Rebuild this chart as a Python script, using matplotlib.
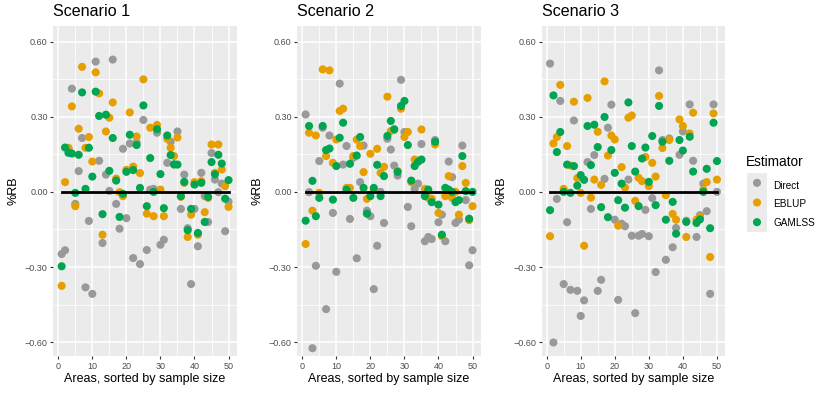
import matplotlib
matplotlib.use("Agg")
import matplotlib.pyplot as plt
import numpy as np

plt.rcParams['font.family'] = ['Liberation Sans', 'DejaVu Sans']

areas = list(range(1, 51))
estimators = ["Direct", "EBLUP", "GAMLSS"]
colors = {"Direct": "#999999", "EBLUP": "#E69F00", "GAMLSS": "#00A551"}
titles = ["Scenario 1", "Scenario 2", "Scenario 3"]
y_ticks = [-0.6, -0.3, 0.0, 0.3, 0.6]
y_ticklabels = ["\u22120.60", "\u22120.30", "0.00", "0.30", "0.60"]
x_ticks = [0, 10, 20, 30, 40, 50]

s1_direct = [-0.248, -0.233, 0.17, 0.412, -0.048, 0.083, 0.215, -0.381, -0.116, -0.407,
             0.52, 0.124, -0.204, 0.069, 0.004, 0.528, -0.048, -0.147, 0.172, -0.105,
             0.193, -0.264, 0.197, -0.288, 0.287, -0.232, 0.009, 0.012, 0.236, -0.211,
             -0.191, 0.116, 0.2, 0.109, 0.241, -0.068, 0.069, -0.145, -0.368, -0.068,
             -0.217, 0.076, -0.017, -0.12, 0.155, 0.049, -0.001, 0.033, -0.157, -0.039]
s1_eblup = [-0.375, 0.039, 0.176, 0.341, -0.057, 0.252, 0.499, 0.176, 0.219, 0.121,
            0.477, 0.393, -0.171, 0.241, 0.296, 0.357, 0.053, -0.001, -0.017, 0.088,
            0.317, 0.101, 0.221, 0.075, 0.449, -0.087, 0.256, -0.097, 0.267, 0.009,
            -0.097, 0.212, 0.176, 0.143, 0.217, -0.02, 0.036, -0.18, -0.091, 0.039,
            -0.171, 0.043, -0.081, -0.024, 0.189, 0.076, 0.189, 0.089, 0.023, -0.06]
s1_gamlss = [-0.297, 0.177, 0.156, 0.153, -0.004, 0.148, 0.397, 0.012, 0.176, 0.061,
             0.40, 0.303, -0.089, 0.308, 0.084, 0.215, 0.045, -0.1, -0.008, 0.08,
             0.228, 0.087, 0.187, 0.016, 0.345, -0.057, 0.135, 0.0, 0.25, 0.071,
             -0.065, 0.225, 0.147, 0.11, 0.109, -0.017, 0.04, -0.153, -0.068, 0.029,
             -0.164, 0.036, -0.12, -0.02, 0.119, 0.07, 0.148, 0.113, -0.027, 0.047]

s2_direct = [0.309, -0.001, -0.624, -0.295, 0.123, 0.256, -0.468, 0.225, -0.084, -0.319,
             0.432, 0.109, 0.183, -0.108, 0.136, -0.265, 0.039, 0.185, -0.075, -0.097,
             -0.388, -0.215, 0.0, -0.124, 0.212, 0.169, 0.105, 0.065, 0.447, 0.239,
             -0.06, -0.137, 0.012, 0.033, 0.191, -0.197, -0.18, -0.188, 0.207, -0.121,
             -0.091, -0.197, 0.121, 0.059, -0.124, -0.111, 0.185, -0.033, -0.293, -0.233]
s2_eblup = [-0.208, 0.236, -0.075, 0.225, -0.004, 0.489, 0.143, 0.485, 0.116, 0.209,
            0.323, 0.332, 0.016, 0.016, 0.143, 0.209, 0.183, 0.079, -0.028, 0.152,
            0.009, 0.172, 0.076, 0.1, 0.38, 0.243, 0.247, 0.083, 0.332, 0.219,
            0.239, 0.039, 0.129, 0.125, 0.249, 0.012, -0.024, -0.028, 0.189, -0.084,
            -0.177, -0.017, 0.063, -0.024, 0.0, -0.091, 0.103, 0.036, -0.113, -0.057]
s2_gamlss = [-0.115, 0.263, 0.044, -0.097, -0.024, 0.263, 0.167, 0.173, -0.031, 0.103,
             0.216, 0.276, 0.009, 0.112, -0.024, 0.145, 0.219, 0.016, -0.087, -0.017,
             0.016, 0.108, -0.017, 0.063, 0.223, 0.283, 0.25, 0.08, 0.343, 0.363,
             0.187, 0.045, 0.103, 0.12, 0.129, -0.017, 0.009, -0.041, 0.2, -0.051,
             -0.171, 0.016, 0.009, 0.0, -0.041, -0.033, 0.143, 0.003, -0.107, 0.0]

s3_direct = [0.512, -0.601, -0.028, 0.363, -0.368, -0.121, -0.391, 0.285, -0.395, -0.495,
             -0.433, 0.119, -0.068, 0.147, -0.395, -0.351, 0.052, 0.256, 0.348, -0.111,
             -0.431, -0.127, -0.137, 0.049, -0.175, -0.484, -0.175, -0.168, -0.072, -0.177,
             -0.025, -0.32, 0.485, 0.207, -0.271, 0.213, -0.221, -0.144, 0.148, 0.241,
             -0.115, 0.349, 0.124, -0.18, -0.093, 0.033, -0.077, -0.407, 0.349, 0.0]
s3_eblup = [-0.177, 0.193, 0.219, 0.427, 0.012, 0.183, 0.105, 0.36, 0.055, -0.004,
            -0.215, 0.375, -0.023, 0.049, 0.24, 0.028, 0.441, 0.145, 0.225, 0.209,
            -0.135, 0.099, 0.017, 0.296, 0.305, -0.036, 0.056, 0.043, 0.139, 0.023,
            0.116, 0.061, 0.383, 0.175, -0.013, 0.207, -0.088, -0.111, 0.289, 0.263,
            -0.18, 0.233, 0.316, -0.111, -0.1, 0.009, 0.039, -0.26, 0.313, 0.049]
s3_gamlss = [-0.073, 0.385, 0.159, 0.239, 0.0, 0.109, -0.004, 0.103, 0.025, 0.067,
             0.048, 0.263, 0.107, 0.268, 0.179, -0.061, 0.299, -0.101, 0.167, 0.076,
             -0.033, 0.033, -0.063, 0.357, 0.183, 0.081, -0.057, 0.133, 0.177, 0.04,
             0.223, -0.053, 0.343, 0.2, -0.111, 0.124, -0.04, -0.167, 0.207, 0.165,
             -0.12, 0.22, 0.081, -0.124, -0.11, 0.0, 0.092, -0.145, 0.276, 0.123]

scenarios = [
    {"Direct": s1_direct, "EBLUP": s1_eblup, "GAMLSS": s1_gamlss},
    {"Direct": s2_direct, "EBLUP": s2_eblup, "GAMLSS": s2_gamlss},
    {"Direct": s3_direct, "EBLUP": s3_eblup, "GAMLSS": s3_gamlss},
]

W, H = 830, 393
fig = plt.figure(figsize=(W / 100, H / 100), dpi=100)
fig.patch.set_facecolor("white")

panel_lefts = [53.3, 297.3, 541.7]
panel_w = 183.6
panel_top, panel_bot = 26, 356
PT_SIZE = 34

for i, (left, data) in enumerate(zip(panel_lefts, scenarios)):
    ax = fig.add_axes([left / W, (H - panel_bot) / H, panel_w / W, (panel_bot - panel_top) / H])
    ax.set_facecolor("#EBEBEB")
    for sp in ax.spines.values():
        sp.set_visible(False)
    ax.set_xlim(-1.45, 52.45)
    ax.set_ylim(-0.655, 0.662)
    for xm in [5, 15, 25, 35, 45]:
        ax.axvline(xm, color="white", lw=0.55, zorder=0)
    for ym in [-0.45, -0.15, 0.15, 0.45]:
        ax.axhline(ym, color="white", lw=0.55, zorder=0)
    for xm in x_ticks:
        ax.axvline(xm, color="white", lw=1.1, zorder=0)
    for ym in y_ticks:
        ax.axhline(ym, color="white", lw=1.1, zorder=0)
    for est in estimators:
        ax.scatter(areas, data[est], s=PT_SIZE, color=colors[est], edgecolors="none", zorder=2)
    ax.plot([areas[0], areas[-1]], [0, 0], color="black", lw=2.0, zorder=3)
    ax.set_xticks(x_ticks)
    ax.set_xticklabels([str(t) for t in x_ticks])
    ax.set_yticks(y_ticks)
    ax.set_yticklabels(y_ticklabels)
    ax.tick_params(axis="both", colors="#333333", labelcolor="#4D4D4D", labelsize=6.5,
                   length=2.5, width=0.8, pad=1.5)
    ax.set_xlabel("Areas, sorted by sample size", fontsize=9, color="black", labelpad=1.5)
    ax.set_ylabel("%RB", fontsize=9, color="black", labelpad=4)
    fig.text(left / W, 1 - 12 / H, titles[i], fontsize=11.6, ha="left", va="center", color="black")

# legend
fig.text(746 / W, 1 - 162 / H, "Estimator", fontsize=9.8, ha="left", va="center")
leg_ax = fig.add_axes([747 / W, (H - 232) / H, 20 / W, 59 / H])
leg_ax.set_facecolor("#EBEBEB")
leg_ax.set_xlim(0, 1)
leg_ax.set_ylim(0, 3)
leg_ax.set_xticks([])
leg_ax.set_yticks([])
for sp in leg_ax.spines.values():
    sp.set_visible(False)
for k, est in enumerate(estimators):
    yk = 2.5 - k
    leg_ax.scatter([0.5], [yk], s=PT_SIZE, color=colors[est], edgecolors="none")
    fig.text(773 / W, 1 - (186 + 18.5 * k) / H, est, fontsize=7.2, ha="left", va="center")

fig.savefig("out.png", dpi=100)
